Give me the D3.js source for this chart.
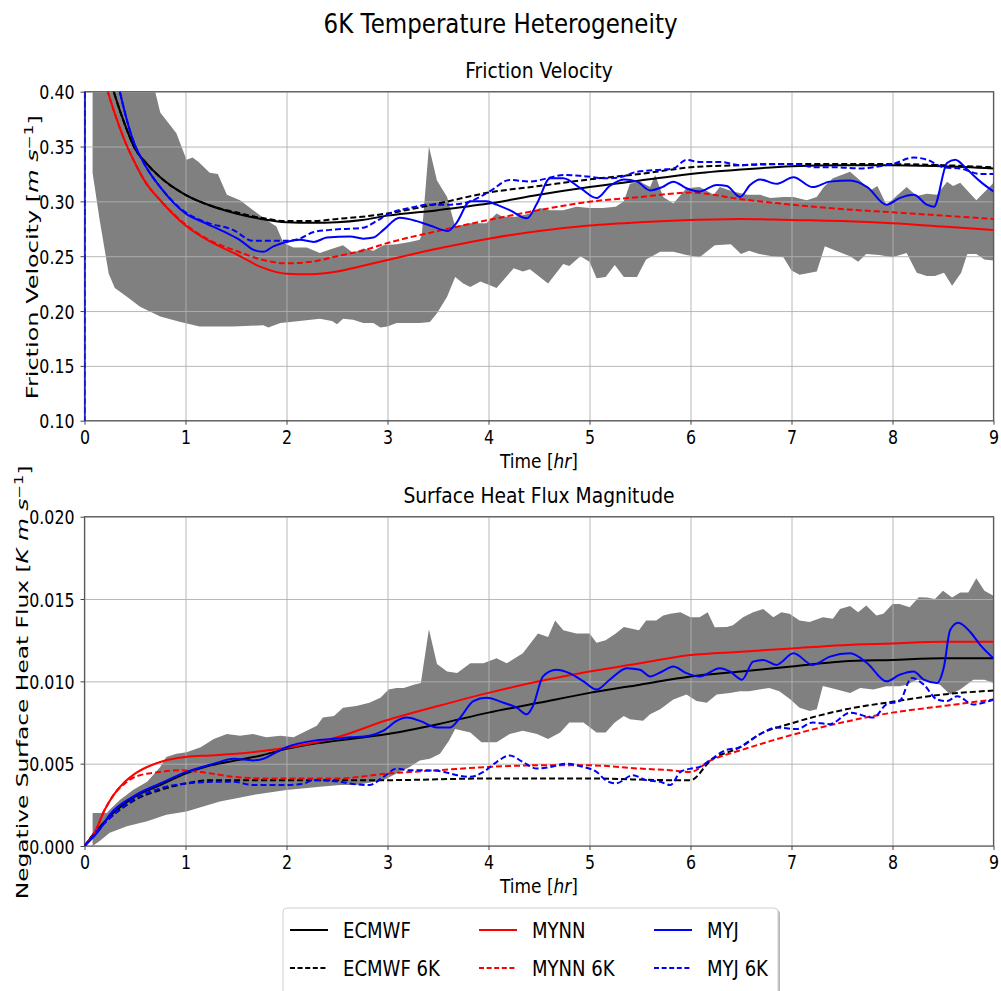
<!DOCTYPE html>
<html>
<head>
<meta charset="utf-8">
<script src="https://cdn.jsdelivr.net/npm/d3@7"></script>
<style>
  body { margin: 0; background: #fff; }
  text { font-family: "DejaVu Sans", sans-serif; fill: #000; }
</style>
</head>
<body>
<svg id="chart" width="1001" height="991"></svg>
<script>
// ---- data: time [hr] / value pairs ----
const timeTicks = [0, 1, 2, 3, 4, 5, 6, 7, 8, 9];
const fvTicks = [0.10, 0.15, 0.20, 0.25, 0.30, 0.35, 0.40];
const fvTickLabels = ['0.10', '0.15', '0.20', '0.25', '0.30', '0.35', '0.40'];
const shfTicks = [0.000, 0.005, 0.010, 0.015, 0.020];
const shfTickLabels = ['0.000', '0.005', '0.010', '0.015', '0.020'];
const seriesNames = ['ECMWF', 'ECMWF 6K', 'MYNN', 'MYNN 6K', 'MYJ', 'MYJ 6K'];

// friction velocity spread (upper / lower edge)
const fvBandUpper = [[0.08,0.55],[0.7,0.40],[0.75,0.381],[0.91,0.362],[1.01,0.338],[1.07,0.34],[1.13,0.336],[1.24,0.326],[1.32,0.325],[1.41,0.306],[1.54,0.301],[1.67,0.292],[1.80,0.283],[1.90,0.277],[1.97,0.262],[2.07,0.258],[2.2,0.258],[2.33,0.253],[2.43,0.256],[2.56,0.260],[2.66,0.253],[2.76,0.257],[2.86,0.255],[2.96,0.260],[3.09,0.261],[3.22,0.263],[3.32,0.265],[3.34,0.27],[3.41,0.350],[3.49,0.319],[3.59,0.304],[3.67,0.277],[3.82,0.280],[3.98,0.280],[4.08,0.289],[4.14,0.286],[4.27,0.286],[4.41,0.289],[4.51,0.294],[4.61,0.292],[4.74,0.292],[4.87,0.295],[5.0,0.294],[5.13,0.294],[5.26,0.295],[5.34,0.30],[5.40,0.316],[5.5,0.318],[5.60,0.313],[5.65,0.324],[5.73,0.304],[5.83,0.298],[5.96,0.312],[6.09,0.313],[6.23,0.306],[6.29,0.313],[6.42,0.309],[6.56,0.306],[6.69,0.306],[6.79,0.303],[6.92,0.304],[7.02,0.304],[7.15,0.301],[7.25,0.304],[7.32,0.313],[7.41,0.321],[7.58,0.327],[7.68,0.319],[7.78,0.310],[7.85,0.314],[7.94,0.297],[8.04,0.305],[8.14,0.313],[8.24,0.305],[8.34,0.307],[8.44,0.306],[8.54,0.318],[8.60,0.314],[8.67,0.317],[8.83,0.301],[8.96,0.313],[9.0,0.317]];
const fvBandLower = [[0.08,0.326],[0.15,0.283],[0.24,0.234],[0.30,0.221],[0.42,0.213],[0.55,0.204],[0.75,0.195],[0.95,0.190],[1.14,0.186],[1.47,0.186],[1.77,0.187],[1.82,0.185],[1.94,0.189],[2.13,0.191],[2.33,0.193],[2.45,0.191],[2.5,0.188],[2.56,0.193],[2.66,0.192],[2.76,0.189],[2.86,0.189],[2.93,0.185],[3.0,0.186],[3.09,0.189],[3.32,0.189],[3.42,0.190],[3.49,0.198],[3.59,0.213],[3.67,0.231],[3.75,0.225],[3.82,0.222],[3.92,0.227],[4.08,0.221],[4.25,0.239],[4.34,0.236],[4.41,0.238],[4.59,0.225],[4.74,0.243],[4.80,0.241],[4.91,0.250],[5.0,0.245],[5.07,0.230],[5.16,0.231],[5.25,0.242],[5.34,0.231],[5.47,0.231],[5.56,0.247],[5.70,0.254],[5.83,0.254],[5.96,0.251],[6.09,0.249],[6.24,0.260],[6.40,0.261],[6.50,0.252],[6.58,0.255],[6.68,0.252],[6.81,0.250],[6.92,0.249],[7.0,0.237],[7.08,0.233],[7.25,0.236],[7.33,0.259],[7.44,0.255],[7.58,0.250],[7.66,0.245],[7.74,0.252],[7.87,0.251],[8.0,0.249],[8.14,0.253],[8.24,0.235],[8.34,0.232],[8.42,0.232],[8.51,0.235],[8.59,0.223],[8.68,0.235],[8.74,0.252],[8.83,0.252],[8.91,0.247],[9.0,0.246]];

const fvECMWF = [[0.1,0.47],[0.2,0.43],[0.3,0.397],[0.4,0.370],[0.5,0.348],[0.6,0.336],[0.75,0.322],[1.0,0.306],[1.25,0.296],[1.5,0.289],[1.75,0.284],[2.0,0.281],[2.25,0.2805],[2.5,0.281],[2.75,0.283],[3.0,0.287],[3.5,0.292],[4.0,0.298],[4.5,0.306],[5.0,0.313],[5.5,0.319],[6.0,0.325],[6.5,0.329],[7.0,0.332],[7.5,0.333],[8.0,0.333],[8.5,0.332],[9.0,0.330]];
const fvECMWF6K = [[0.1,0.47],[0.2,0.43],[0.3,0.397],[0.4,0.370],[0.5,0.348],[0.6,0.336],[0.75,0.322],[1.0,0.306],[1.25,0.296],[1.5,0.290],[1.75,0.285],[2.0,0.282],[2.25,0.282],[2.5,0.284],[2.75,0.286],[3.0,0.289],[3.5,0.298],[4.0,0.308],[4.5,0.314],[5.0,0.320],[5.5,0.325],[6.0,0.331],[6.5,0.333],[7.0,0.334],[7.5,0.334],[8.0,0.334],[8.5,0.333],[9.0,0.331]];
const fvMYNN = [[0.1,0.45],[0.2,0.41],[0.3,0.38],[0.4,0.355],[0.5,0.335],[0.6,0.318],[0.75,0.301],[1.0,0.278],[1.25,0.263],[1.5,0.252],[1.75,0.240],[2.0,0.234],[2.25,0.2335],[2.5,0.236],[2.75,0.241],[3.0,0.2465],[3.5,0.257],[4.0,0.266],[4.5,0.273],[5.0,0.278],[5.5,0.281],[6.0,0.283],[6.5,0.284],[7.0,0.283],[7.5,0.282],[8.0,0.280],[8.5,0.277],[9.0,0.274]];
const fvMYNN6K = [[0.1,0.45],[0.2,0.41],[0.3,0.38],[0.4,0.355],[0.5,0.335],[0.6,0.318],[0.75,0.301],[1.0,0.279],[1.25,0.264],[1.5,0.255],[1.75,0.247],[2.0,0.2435],[2.25,0.245],[2.5,0.250],[2.75,0.255],[3.0,0.262],[3.5,0.273],[4.0,0.283],[4.5,0.292],[5.0,0.2997],[5.5,0.304],[6.0,0.308],[6.5,0.302],[7.0,0.297],[7.5,0.293],[8.0,0.290],[8.5,0.287],[9.0,0.284]];
const fvMYJ = [[0,0],[0.005,0.6],[0.2,0.47],[0.35,0.40],[0.48,0.356],[0.6,0.333],[0.75,0.313],[1.0,0.289],[1.2,0.280],[1.41,0.271],[1.55,0.264],[1.67,0.256],[1.77,0.254],[1.87,0.259],[2.0,0.263],[2.13,0.265],[2.27,0.263],[2.40,0.267],[2.63,0.268],[2.76,0.266],[2.86,0.267],[2.96,0.274],[3.12,0.285],[3.29,0.282],[3.42,0.278],[3.60,0.273],[3.68,0.280],[3.82,0.300],[3.98,0.300],[4.08,0.297],[4.21,0.292],[4.38,0.2845],[4.48,0.298],[4.61,0.321],[4.74,0.321],[4.91,0.312],[5.07,0.303],[5.20,0.314],[5.34,0.320],[5.47,0.318],[5.60,0.310],[5.72,0.313],[5.83,0.318],[5.96,0.312],[6.09,0.309],[6.26,0.315],[6.36,0.314],[6.49,0.304],[6.59,0.315],[6.69,0.320],[6.85,0.316],[7.02,0.322],[7.21,0.313],[7.38,0.318],[7.58,0.319],[7.75,0.313],[7.94,0.297],[8.07,0.303],[8.21,0.306],[8.34,0.297],[8.41,0.295],[8.54,0.335],[8.62,0.338],[8.74,0.329],[8.87,0.318],[9.0,0.309]];
const fvMYJ6K = [[0,0],[0.005,0.6],[0.2,0.47],[0.35,0.40],[0.48,0.356],[0.6,0.333],[0.75,0.313],[1.0,0.290],[1.2,0.281],[1.47,0.274],[1.67,0.264],[1.8,0.264],[2.0,0.264],[2.13,0.266],[2.27,0.272],[2.43,0.274],[2.76,0.276],[2.89,0.282],[3.02,0.289],[3.22,0.294],[3.42,0.297],[3.62,0.297],[3.82,0.300],[4.01,0.309],[4.21,0.3195],[4.41,0.318],[4.58,0.321],[4.74,0.324],[4.94,0.323],[5.17,0.321],[5.30,0.322],[5.47,0.327],[5.72,0.329],[5.83,0.330],[5.96,0.3378],[6.09,0.336],[6.29,0.336],[6.49,0.333],[6.69,0.334],[7.02,0.334],[7.25,0.331],[7.45,0.331],[7.68,0.330],[7.87,0.332],[8.0,0.334],[8.21,0.340],[8.34,0.338],[8.51,0.331],[8.67,0.330],[8.87,0.325],[9.0,0.325]];

// surface heat flux spread
const shfBandUpper = [[0.08,0.0020],[0.22,0.0020],[0.25,0.0022],[0.35,0.0028],[0.48,0.0034],[0.62,0.0039],[0.75,0.0048],[0.81,0.0054],[0.91,0.0056],[1.01,0.0057],[1.15,0.0060],[1.28,0.0065],[1.41,0.0068],[1.54,0.0067],[1.67,0.0068],[1.80,0.0066],[1.94,0.0067],[2.07,0.0066],[2.2,0.0070],[2.30,0.0073],[2.36,0.0078],[2.47,0.0079],[2.56,0.0084],[2.69,0.0085],[2.82,0.0087],[2.93,0.0090],[3.01,0.0095],[3.09,0.0096],[3.16,0.0096],[3.26,0.0098],[3.33,0.0099],[3.41,0.01316],[3.49,0.01105],[3.59,0.0106],[3.69,0.0105],[3.82,0.0111],[3.95,0.0111],[4.08,0.0114],[4.18,0.0111],[4.34,0.0117],[4.49,0.0129],[4.59,0.0127],[4.66,0.0137],[4.74,0.0131],[4.87,0.0129],[5.0,0.0129],[5.07,0.01235],[5.16,0.0125],[5.26,0.0129],[5.34,0.0133],[5.49,0.0131],[5.56,0.0137],[5.66,0.0137],[5.73,0.0140],[5.80,0.0141],[5.90,0.0142],[6.0,0.0139],[6.09,0.0139],[6.17,0.0142],[6.24,0.01328],[6.36,0.0133],[6.42,0.0134],[6.52,0.0139],[6.62,0.0142],[6.72,0.0144],[6.82,0.0139],[6.90,0.0142],[6.98,0.0141],[7.08,0.0137],[7.18,0.0136],[7.31,0.0139],[7.41,0.0138],[7.48,0.0144],[7.58,0.01458],[7.66,0.0142],[7.74,0.0146],[7.84,0.0140],[7.91,0.0141],[8.0,0.0147],[8.07,0.0147],[8.17,0.0145],[8.26,0.01511],[8.34,0.0151],[8.42,0.0150],[8.50,0.0155],[8.59,0.0151],[8.67,0.0154],[8.75,0.0154],[8.83,0.01626],[8.91,0.0155],[9.0,0.0152]];
const shfBandLower = [[0.08,0.0],[0.15,0.0003],[0.25,0.0008],[0.42,0.0012],[0.62,0.0015],[0.81,0.0019],[1.01,0.0021],[1.34,0.0027],[1.67,0.0031],[2.0,0.0034],[2.33,0.0036],[2.53,0.0037],[2.69,0.0037],[2.96,0.0040],[3.09,0.0044],[3.22,0.0048],[3.32,0.0052],[3.42,0.0053],[3.52,0.0056],[3.61,0.0064],[3.67,0.0071],[3.82,0.0069],[3.93,0.0063],[4.08,0.0063],[4.21,0.0068],[4.34,0.0070],[4.48,0.0068],[4.59,0.0065],[4.71,0.0069],[4.80,0.0075],[4.94,0.0075],[5.07,0.0069],[5.16,0.0069],[5.25,0.0075],[5.34,0.0079],[5.40,0.0077],[5.53,0.0076],[5.60,0.0080],[5.70,0.0083],[5.83,0.0089],[5.96,0.0092],[6.06,0.0088],[6.16,0.0087],[6.26,0.0092],[6.39,0.0093],[6.49,0.0094],[6.58,0.0094],[6.68,0.0095],[6.78,0.0096],[6.88,0.0094],[6.99,0.0089],[7.08,0.0084],[7.18,0.0082],[7.25,0.0083],[7.31,0.00972],[7.45,0.0095],[7.58,0.0093],[7.68,0.0096],[7.81,0.0095],[7.94,0.0097],[8.07,0.0097],[8.14,0.0098],[8.24,0.0101],[8.34,0.0100],[8.47,0.0098],[8.57,0.0092],[8.67,0.0095],[8.80,0.0101],[8.91,0.0101],[9.0,0.0099]];

const shfECMWF = [[0,0],[0.1,0.0008],[0.25,0.0018],[0.5,0.0030],[0.75,0.0037],[1.0,0.0044],[1.25,0.0049],[1.5,0.0052],[1.75,0.0055],[2.0,0.0059],[2.25,0.0062],[2.5,0.0064],[3.0,0.0068],[3.5,0.0074],[4.0,0.0081],[4.5,0.0087],[5.0,0.0093],[5.5,0.0098],[6.0,0.0103],[6.5,0.0106],[7.0,0.0109],[7.5,0.0112],[8.0,0.0113],[8.5,0.0114],[9.0,0.0114]];
const shfECMWF6K = [[0,0],[0.1,0.0008],[0.25,0.0017],[0.5,0.0028],[0.75,0.0034],[1.0,0.0038],[1.25,0.0040],[1.5,0.0040],[2.0,0.0040],[3.0,0.0040],[4.0,0.0041],[5.0,0.0041],[5.8,0.0040],[6.0,0.0040],[6.2,0.0052],[6.49,0.0060],[6.69,0.0068],[7.0,0.00745],[7.54,0.0083],[8.0,0.00876],[8.5,0.0092],[9.0,0.00944]];
const shfMYNN = [[0,0],[0.1,0.0008],[0.2,0.0022],[0.3,0.0032],[0.4,0.0039],[0.5,0.0044],[0.62,0.0048],[0.75,0.0051],[1.0,0.0054],[1.25,0.0055],[1.5,0.0056],[1.8,0.0058],[2.13,0.0061],[2.5,0.0066],[3.0,0.00765],[3.5,0.0085],[4.0,0.0093],[4.5,0.0100],[5.0,0.0106],[5.5,0.0111],[6.0,0.0116],[6.5,0.0118],[7.0,0.0120],[7.5,0.0122],[8.0,0.0123],[8.5,0.0124],[9.0,0.0124]];
const shfMYNN6K = [[0,0],[0.1,0.0008],[0.2,0.0022],[0.3,0.0032],[0.4,0.0038],[0.5,0.0042],[0.75,0.0045],[0.95,0.0046],[1.14,0.0045],[1.48,0.0042],[1.8,0.0041],[2.13,0.0041],[2.5,0.0041],[3.0,0.0044],[3.5,0.0046],[4.0,0.0048],[4.5,0.0049],[5.0,0.0049],[5.5,0.0047],[5.8,0.0046],[6.0,0.0045],[6.2,0.0052],[6.49,0.0058],[7.0,0.00674],[7.5,0.0075],[8.0,0.0081],[8.5,0.0085],[9.0,0.0089]];
const shfMYJ = [[0,0],[0.15,0.0010],[0.25,0.0019],[0.48,0.0030],[0.75,0.0038],[1.01,0.0045],[1.28,0.0050],[1.48,0.0053],[1.67,0.0052],[1.77,0.0053],[1.87,0.0056],[2.0,0.0060],[2.27,0.0064],[2.45,0.0065],[2.63,0.0066],[2.82,0.0067],[2.96,0.0070],[3.09,0.0076],[3.19,0.0078],[3.32,0.0076],[3.49,0.0072],[3.62,0.0072],[3.72,0.0078],[3.85,0.0088],[3.98,0.0090],[4.15,0.0087],[4.28,0.0084],[4.38,0.0080],[4.44,0.0085],[4.54,0.0103],[4.67,0.0107],[4.80,0.0105],[4.94,0.0100],[5.07,0.0095],[5.20,0.0101],[5.37,0.0108],[5.5,0.0107],[5.60,0.0103],[5.72,0.0106],[5.83,0.0109],[5.96,0.0105],[6.09,0.0103],[6.29,0.0108],[6.39,0.0106],[6.51,0.0101],[6.62,0.0112],[6.72,0.0113],[6.85,0.0110],[7.02,0.0117],[7.21,0.0110],[7.38,0.0115],[7.58,0.0117],[7.75,0.0111],[7.94,0.0100],[8.07,0.0104],[8.21,0.0106],[8.31,0.0101],[8.44,0.0099],[8.51,0.0109],[8.57,0.0131],[8.65,0.01356],[8.77,0.0130],[8.87,0.0122],[9.0,0.0114]];
const shfMYJ6K = [[0,0],[0.25,0.0017],[0.48,0.0028],[0.75,0.0035],[1.01,0.0038],[1.34,0.0039],[1.48,0.0039],[1.67,0.0037],[2.0,0.0037],[2.17,0.0038],[2.27,0.0040],[2.53,0.0039],[2.63,0.0038],[2.82,0.0037],[2.96,0.0042],[3.09,0.0047],[3.22,0.0046],[3.39,0.0046],[3.56,0.0045],[3.69,0.0043],[3.82,0.0042],[3.95,0.0045],[4.08,0.0051],[4.21,0.0055],[4.34,0.0051],[4.48,0.0047],[4.61,0.0048],[4.77,0.0050],[4.94,0.0048],[5.07,0.0045],[5.16,0.0040],[5.26,0.0038],[5.43,0.0043],[5.56,0.0040],[5.70,0.0039],[5.80,0.0037],[5.90,0.0045],[6.0,0.0047],[6.09,0.0048],[6.19,0.0052],[6.34,0.0058],[6.49,0.0060],[6.69,0.0068],[6.85,0.0072],[7.05,0.0071],[7.21,0.0075],[7.38,0.0074],[7.58,0.0081],[7.81,0.0078],[7.94,0.0086],[8.07,0.0088],[8.19,0.0102],[8.31,0.0098],[8.44,0.0089],[8.54,0.0088],[8.64,0.0091],[8.80,0.0086],[9.0,0.0089]];

// ---- styles ----
const lineStyles = [
  {color: '#000000', dash: null},
  {color: '#000000', dash: '6,3'},
  {color: '#ff0000', dash: null},
  {color: '#ff0000', dash: '6,3'},
  {color: '#0000ff', dash: null},
  {color: '#0000ff', dash: '6,3'}
];
const SX = 0.85;      // horizontal squeeze of the reference text
const TICK_SX = 0.81; // tick labels are a bit narrower still

const svg = d3.select('#chart');
const x = d3.scaleLinear().domain([0, 9]).range([84.5, 993.5]);

// squeeze single-run text by textLength
function squeeze(sel, factor) {
  sel.each(function() {
    const len = this.getComputedTextLength();
    d3.select(this)
      .attr('textLength', len * factor)
      .attr('lengthAdjust', 'spacingAndGlyphs');
  });
}

// horizontal text squeezed with a transform (keeps tspans in place)
function hText(px, py, size) {
  return svg.append('text')
    .attr('transform', `translate(${px},${py}) scale(${SX},1)`)
    .attr('text-anchor', 'middle')
    .attr('font-size', size);
}

// append "<prefix> [<units> s^-1]"
function unitLabel(text, prefix, units) {
  text.append('tspan').text(prefix + ' [');
  units.forEach((u, i) => {
    if (i > 0) text.append('tspan').text(' ');
    text.append('tspan').attr('font-style', 'italic').text(u);
  });
  text.append('tspan').attr('dy', '-0.45em').attr('font-size', '70%').text('\u22121');
  text.append('tspan').attr('dy', '0.45em').text(']');
}

const panels = [
  {
    top: 91.7, bottom: 420.7, domain: [0.10, 0.40],
    ticks: fvTicks, tickLabels: fvTickLabels,
    band: [fvBandUpper, fvBandLower],
    series: [fvECMWF, fvECMWF6K, fvMYNN, fvMYNN6K, fvMYJ, fvMYJ6K],
    title: 'Friction Velocity',
    ylabel: ['Friction Velocity', ['m', 's']], ylabelLen: 284, ylabelX: 38
  },
  {
    top: 516.7, bottom: 846, domain: [0, 0.020],
    ticks: shfTicks, tickLabels: shfTickLabels,
    band: [shfBandUpper, shfBandLower],
    series: [shfECMWF, shfECMWF6K, shfMYNN, shfMYNN6K, shfMYJ, shfMYJ6K],
    title: 'Surface Heat Flux Magnitude',
    ylabel: ['Negative Surface Heat Flux', ['K', 'm', 's']], ylabelLen: 434, ylabelX: 28
  }
];

panels.forEach((p, pi) => {
  const y = d3.scaleLinear().domain(p.domain).range([p.bottom, p.top]);
  const g = svg.append('g');
  const h = p.bottom - p.top;
  const w = x.range()[1] - x.range()[0];
  const cx = (x.range()[0] + x.range()[1]) / 2;

  const clipId = 'clip' + pi;
  svg.append('clipPath').attr('id', clipId)
    .append('rect').attr('x', x.range()[0]).attr('y', p.top).attr('width', w).attr('height', h);

  // spread band
  const poly = p.band[0].concat(p.band[1].slice().reverse());
  g.append('path')
    .attr('clip-path', `url(#${clipId})`)
    .attr('d', d3.line().x(d => x(d[0])).y(d => y(d[1]))(poly) + 'Z')
    .attr('fill', '#808080');

  // grid (sits above the band, below the lines)
  g.append('g').attr('transform', `translate(0,${p.bottom})`)
    .call(d3.axisBottom(x).tickValues(timeTicks).tickSize(-h).tickFormat(''))
    .call(s => s.select('.domain').remove())
    .selectAll('line').attr('stroke', '#b0b0b0').attr('stroke-width', 0.9);
  g.append('g').attr('transform', `translate(${x.range()[0]},0)`)
    .call(d3.axisLeft(y).tickValues(p.ticks).tickSize(-w).tickFormat(''))
    .call(s => s.select('.domain').remove())
    .selectAll('line').attr('stroke', '#b0b0b0').attr('stroke-width', 0.9);

  // spines
  g.append('rect')
    .attr('x', x.range()[0]).attr('y', p.top).attr('width', w).attr('height', h)
    .attr('fill', 'none').attr('stroke', '#5a5a5a').attr('stroke-width', 1.2);

  // model lines
  const line = d3.line().curve(d3.curveMonotoneX).x(d => x(d[0])).y(d => y(d[1]));
  p.series.forEach((data, i) => {
    g.append('path')
      .attr('clip-path', `url(#${clipId})`)
      .attr('d', line(data))
      .attr('fill', 'none')
      .attr('stroke', lineStyles[i].color)
      .attr('stroke-width', 2)
      .attr('stroke-dasharray', lineStyles[i].dash);
  });

  // axes with labels
  const xAxis = g.append('g').attr('transform', `translate(0,${p.bottom})`)
    .call(d3.axisBottom(x).tickValues(timeTicks).tickSize(4).tickPadding(4).tickFormat(d3.format('d')));
  const yAxis = g.append('g').attr('transform', `translate(${x.range()[0]},0)`)
    .call(d3.axisLeft(y).tickValues(p.ticks).tickSize(4).tickPadding(6)
      .tickFormat((d, i) => p.tickLabels[i]));
  [xAxis, yAxis].forEach(ax => {
    ax.select('.domain').remove();
    ax.selectAll('line').attr('stroke', '#444');
    ax.selectAll('text').attr('font-size', 19.5).attr('fill', '#000')
      .style('font-family', '"DejaVu Sans", sans-serif')
      .attr('transform', `scale(${TICK_SX},1)`);
  });
  xAxis.selectAll('text').attr('dy', null).attr('y', 23);
  yAxis.selectAll('text').attr('dy', '0.36em').attr('x', -10 / TICK_SX);

  // subplot title
  hText(cx, p.top - 13.7, 22).text(p.title);

  // x label
  const xl = hText(cx, p.bottom + 47, 20);
  xl.append('tspan').text('Time [');
  xl.append('tspan').attr('font-style', 'italic').text('hr');
  xl.append('tspan').text(']');

  // y label, stretched along its reading direction to the reference length
  const yl = svg.append('text')
    .attr('text-anchor', 'middle').attr('font-size', 16.5);
  unitLabel(yl, p.ylabel[0], p.ylabel[1]);
  const k = p.ylabelLen / yl.node().getComputedTextLength();
  yl.attr('transform', `translate(${p.ylabelX},${(p.top + p.bottom) / 2 + 1}) rotate(-90) scale(${k},1)`);
});

// figure title
svg.append('text')
  .attr('x', 500.5).attr('y', 33)
  .attr('text-anchor', 'middle').attr('font-size', 26.5)
  .text('6K Temperature Heterogeneity')
  .attr('textLength', 354).attr('lengthAdjust', 'spacingAndGlyphs');

// legend (3 columns, filled column by column)
const legend = svg.append('g');
legend.append('rect')
  .attr('x', 285).attr('y', 910).attr('width', 495).attr('height', 100).attr('rx', 4)
  .attr('fill', '#b8b8b8');
legend.append('rect')
  .attr('x', 283).attr('y', 908).attr('width', 495).attr('height', 100).attr('rx', 4)
  .attr('fill', '#fff').attr('stroke', '#d0d0d0').attr('stroke-width', 1);
const colX = [290, 479, 654];
const rowY = [930, 968];
seriesNames.forEach((name, i) => {
  const lx = colX[Math.floor(i / 2)], ly = rowY[i % 2];
  legend.append('line')
    .attr('x1', lx).attr('x2', lx + 38).attr('y1', ly).attr('y2', ly)
    .attr('stroke', lineStyles[i].color).attr('stroke-width', 2)
    .attr('stroke-dasharray', lineStyles[i].dash ? '5,2.6' : null);
  legend.append('text')
    .attr('x', lx + 53).attr('y', ly + 8)
    .attr('font-size', 22)
    .text(name).call(squeeze, 0.82);
});
</script>
</body>
</html>
